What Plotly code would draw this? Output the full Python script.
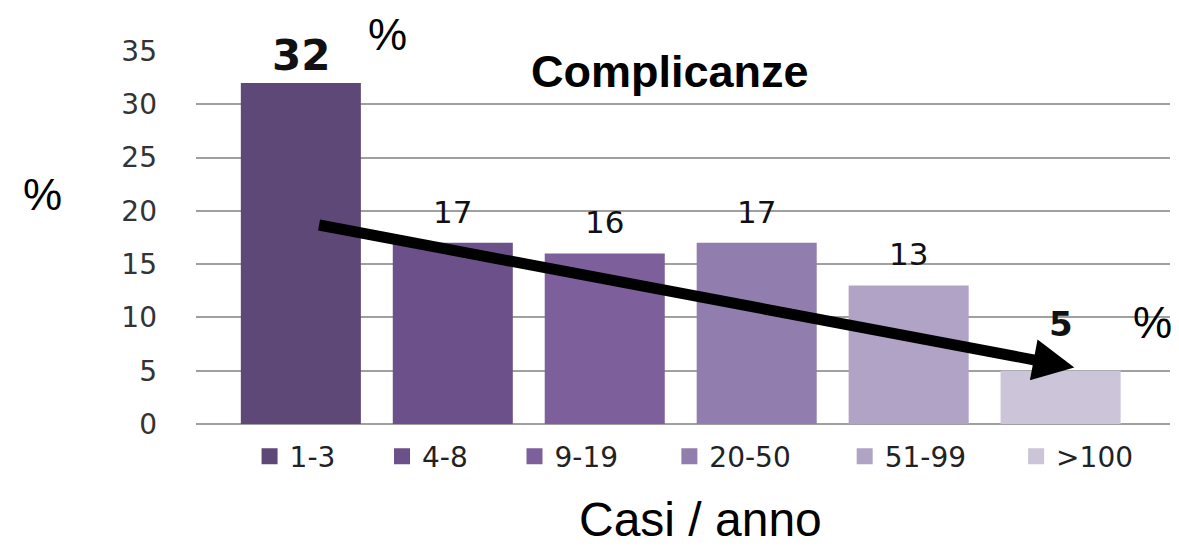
import plotly.graph_objects as go

# data
categories = ["1-3", "4-8", "9-19", "20-50", "51-99", ">100"]
complications = [32, 17, 16, 17, 13, 5]

bar_colors = ["#5e4877", "#6c5089", "#7c5f9b", "#927eae", "#b0a3c5", "#ccc4d8"]
tick_font = "DejaVu Sans, Verdana, sans-serif"
txt_font = "Liberation Sans, Arial, sans-serif"

# legend entries are not evenly spaced in the original, so each gets its own legend box
legend_x = [0.055, 0.191, 0.327, 0.486, 0.666, 0.842]

fig = go.Figure()

for i, (cat, val) in enumerate(zip(categories, complications)):
    lg = "legend" if i == 0 else f"legend{i + 1}"
    fig.add_trace(go.Bar(
        x=[i], y=[val], name=cat, showlegend=False,
        marker=dict(color=bar_colors[i], line=dict(width=0)),
        width=0.79,
        hoverinfo="name+y",
    ))
    # bigger square swatch for the legend
    fig.add_trace(go.Scatter(
        x=[None], y=[None], name=cat, mode="markers", legend=lg,
        marker=dict(symbol="square", size=16, color=bar_colors[i]),
    ))

# value labels above the bars, first and last ones bold and bigger
for i, val in enumerate(complications):
    if i == 0:
        txt, size, shift = f"<b>{val}</b>", 42, 1
    elif i == len(complications) - 1:
        txt, size, shift = f"<b>{val}</b>", 34, 25
    else:
        txt, size, shift = str(val), 31, 11
    fig.add_annotation(
        x=i, y=val, xref="x", yref="y", text=txt,
        showarrow=False, yanchor="bottom", yshift=shift,
        font=dict(family=tick_font, size=size, color="#111"),
    )

# trend arrow going down from the first class to the last one
fig.add_annotation(
    x=5.09, y=5.3, ax=0.11, ay=18.7,
    xref="x", yref="y", axref="x", ayref="y",
    text="", showarrow=True,
    arrowhead=2, arrowsize=0.75, arrowwidth=11, arrowcolor="black",
)

# free texts around the plot
for txt, px, py, size, bold in [
    ("%", 0.197, 1.043, 44, False),
    ("%", 0.982, 0.273, 44, False),
    ("%", -0.158, 0.614, 44, False),
    ("Complicanze", 0.487, 0.944, 45, True),
    ("Casi / anno", 0.518, -0.255, 48, False),
]:
    fig.add_annotation(x=px, y=py, xref="paper", yref="paper",
                       xanchor="center", yanchor="middle",
                       text=f"<b>{txt}</b>" if bold else txt, showarrow=False,
                       font=dict(family=txt_font, size=size, color="black"))

legend_style = dict(
    orientation="h", y=-0.02, xanchor="left", yanchor="top",
    font=dict(family=tick_font, size=28, color="#222"),
    itemclick=False, itemdoubleclick=False, bgcolor="rgba(0,0,0,0)",
)

# page body has an 8px margin, so the figure is sized to fit inside it
fig.update_layout(
    width=1171, height=540,
    margin=dict(l=188, r=9, t=43, b=124),
    paper_bgcolor="white", plot_bgcolor="white",
    barmode="overlay",
    showlegend=True,
    xaxis=dict(range=[-0.69, 5.72], showticklabels=False, showgrid=False,
               zeroline=False, showline=False, fixedrange=True),
    yaxis=dict(range=[0, 35], dtick=5, showgrid=True, gridcolor="#a0a0a0", gridwidth=1.5,
               zeroline=True, zerolinecolor="#a0a0a0", zerolinewidth=1.5,
               tickfont=dict(family=tick_font, size=28, color="#333"),
               ticks="", ticklabelstandoff=38, fixedrange=True),
)
for i, lx in enumerate(legend_x):
    key = "legend" if i == 0 else f"legend{i + 1}"
    fig.update_layout({key: dict(legend_style, x=lx)})

fig.write_html("out.html")
